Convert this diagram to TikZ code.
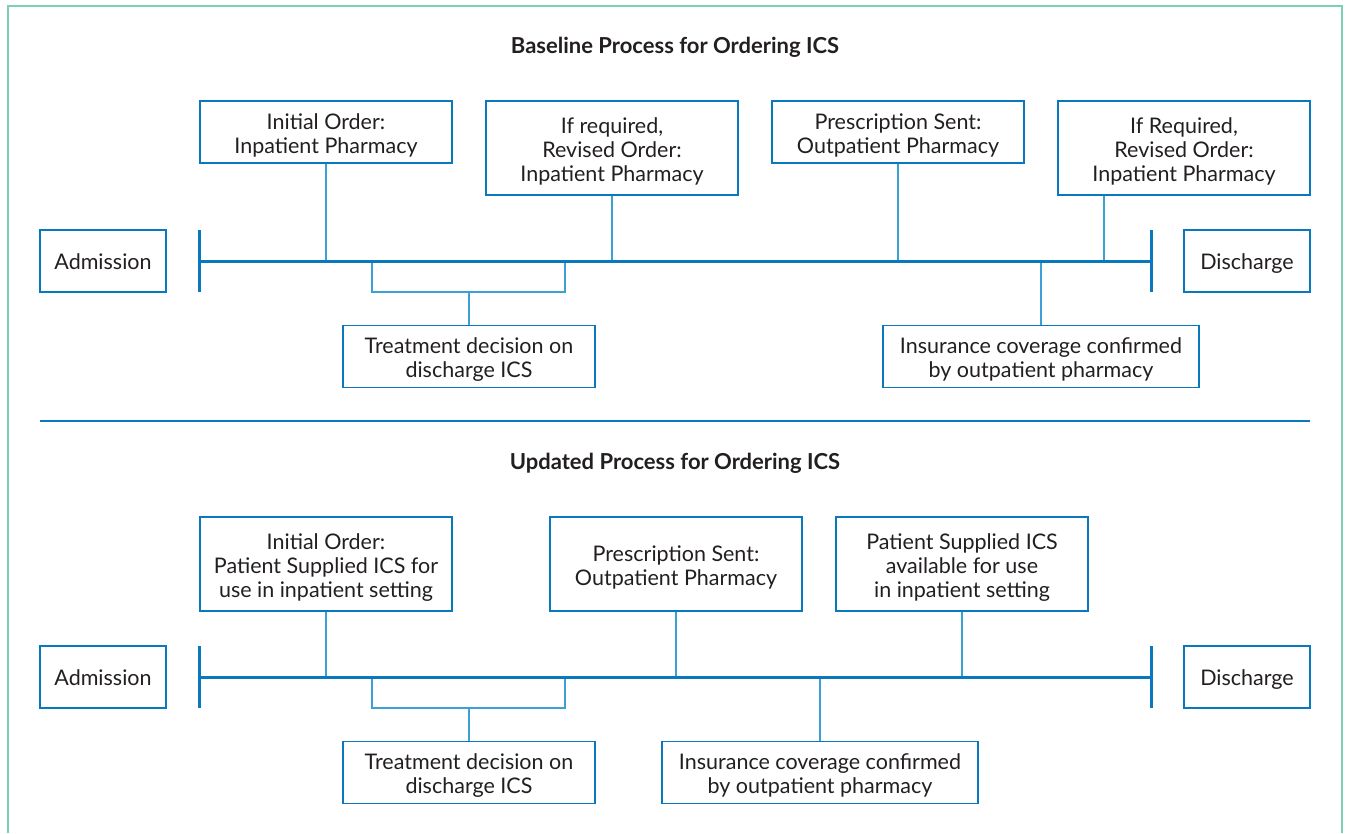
\documentclass[tikz,border=0pt]{standalone}
\usepackage{fontspec}
\setmainfont{Lato}
\definecolor{FrameTeal}{RGB}{125,208,184}
\definecolor{LineBlue}{RGB}{10,120,189}
\definecolor{LinkBlue}{RGB}{60,160,216}
\definecolor{TextDark}{RGB}{35,31,32}
\usetikzlibrary{positioning}

\begin{document}
\begin{tikzpicture}[x=1pt, y=-1pt,
        evt/.style={rectangle, draw=LineBlue, line width=1.6pt, fill=white,
                    minimum width=252pt, minimum height=62pt, inner sep=0pt,
                    align=center, text=TextDark, font=\fontsize{21.5}{24}\selectfont,
                    text height=42.5pt, text depth=0pt},
        tall/.style={evt, minimum height=94pt, text height=66pt},
        endbox/.style={evt, minimum width=126pt, text height=16pt},
        title/.style={font=\fontsize{22}{24}\selectfont\bfseries, text=TextDark},
        axis/.style={LineBlue, line width=3pt},
        tick/.style={LineBlue, line width=3pt},
        link/.style={LinkBlue, line width=1.4pt}
      ]
        \useasboundingbox (0,0) rectangle (1346,833);
        \draw[FrameTeal, line width=2pt] (7.5,833) -- (7.5,5.5) -- (1342,5.5) -- (1342,833);

        % Baseline process
        \node[title] (t1) at (675,47.5) {Baseline Process for Ordering ICS};
        \node[evt]  (ini1) at (326,132)  {Initial Order:\\Inpatient Pharmacy};
        \node[tall] (rev1) at (612,148)  {If required,\\Revised Order:\\Inpatient Pharmacy};
        \node[evt]  (pre1) at (898,132)  {Prescription Sent:\\Outpatient Pharmacy};
        \node[tall] (rev2) at (1184,148) {If Required,\\Revised Order:\\Inpatient Pharmacy};
        \node[endbox] (adm1) at (103,261)  {Admission};
        \node[endbox] (dis1) at (1247,261) {Discharge};
        \node[evt] (trt1) at (469,356.5) {Treatment decision on\\discharge ICS};
        \node[evt, minimum width=316pt] (ins1) at (1041,356.5) {Insurance coverage confirmed\\by outpatient pharmacy};
        \coordinate (s1) at (199,261);
        \coordinate (e1) at (1151,261);
        \coordinate (b1a) at (372,261);
        \coordinate (b1b) at (565,292);
        \draw[link] (ini1.south) -- (ini1.south |- s1);
        \draw[link] (rev1.south) -- (rev1.south |- s1);
        \draw[link] (pre1.south) -- (pre1.south |- s1);
        \draw[link] ([xshift=-80pt]rev2.south) -- ([xshift=-80pt]rev2.south |- s1);
        \draw[link] (b1a) |- (b1b) -- (b1b |- s1);
        \draw[link] (trt1.north) -- (trt1.north |- b1b);
        \draw[link] (ins1.north) -- (ins1.north |- s1);
        \draw[axis] (s1) -- (e1);
        \draw[tick] ([yshift=-31pt]s1) -- ([yshift=31pt]s1);
        \draw[tick] ([yshift=-31pt]e1) -- ([yshift=31pt]e1);

        % Separator
        \coordinate (m1) at (40,421);
        \coordinate (m2) at (1310,421);
        \draw[axis, line width=2.5pt] (m1) -- (m2);

        % Updated process
        \node[title] (t2) at (675,463) {Updated Process for Ordering ICS};
        \node[tall] (ini2) at (326,564) {Initial Order:\\Patient Supplied ICS for\\use in inpatient setting};
        \node[tall, text height=42.5pt] (pre2) at (676,564) {Prescription Sent:\\Outpatient Pharmacy};
        \node[tall] (sup2) at (962,564) {Patient Supplied ICS\\available for use\\in inpatient setting};
        \node[endbox] (adm2) at (103,677)  {Admission};
        \node[endbox] (dis2) at (1247,677) {Discharge};
        \node[evt] (trt2) at (469,772.5) {Treatment decision on\\discharge ICS};
        \node[evt, minimum width=316pt] (ins2) at (820,772.5) {Insurance coverage confirmed\\by outpatient pharmacy};
        \coordinate (s2) at (199,677);
        \coordinate (e2) at (1151,677);
        \coordinate (b2a) at (372,677);
        \coordinate (b2b) at (565,708);
        \draw[link] (ini2.south) -- (ini2.south |- s2);
        \draw[link] (pre2.south) -- (pre2.south |- s2);
        \draw[link] (sup2.south) -- (sup2.south |- s2);
        \draw[link] (b2a) |- (b2b) -- (b2b |- s2);
        \draw[link] (trt2.north) -- (trt2.north |- b2b);
        \draw[link] (ins2.north) -- (ins2.north |- s2);
        \draw[axis] (s2) -- (e2);
        \draw[tick] ([yshift=-31pt]s2) -- ([yshift=31pt]s2);
        \draw[tick] ([yshift=-31pt]e2) -- ([yshift=31pt]e2);
      \end{tikzpicture}
\end{document}
